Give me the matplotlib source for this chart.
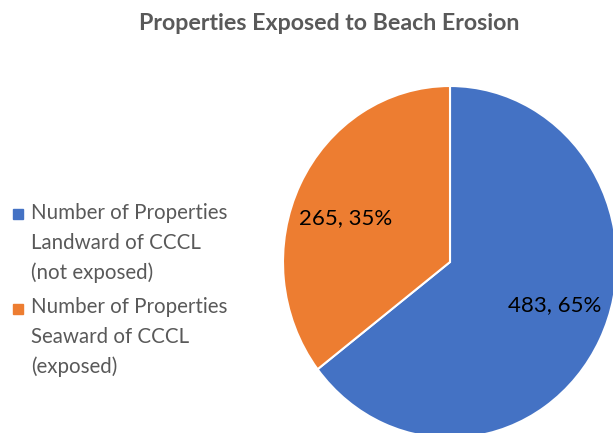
import numpy as np
import matplotlib.pyplot as plt
from matplotlib.patches import Rectangle

title = 'Properties Exposed to Beach Erosion'
labels = ['Number of Properties\nLandward of CCCL\n(not exposed)',
          'Number of Properties\nSeaward of CCCL\n(exposed)']
counts = [483, 265]
colors = ['#4472C4', '#ED7D31']

W, H = 613, 433
plt.rcParams['font.family'] = ['Lato', 'DejaVu Sans']

fig = plt.figure(figsize=(W / 100, H / 100), dpi=100)

# pie centre and radii in pixels (the pie runs off the right and bottom edges)
cx, cy, rx, ry = 450, 262, 167, 176
ax = fig.add_axes([(cx - rx) / W, (H - cy - ry) / H, 2 * rx / W, 2 * ry / H])

total = sum(counts)
def fmt(pct):
    n = int(round(pct * total / 100))
    return f'{n}, {pct:.0f}%'

wedges, _, autotexts = ax.pie(counts, colors=colors, startangle=90, counterclock=False,
                              autopct=fmt, pctdistance=0.7,
                              wedgeprops=dict(edgecolor='white', linewidth=1.5),
                              textprops=dict(fontsize=16, color='black'))
ax.set_aspect('auto')
ax.set_xlim(-1, 1)
ax.set_ylim(-1, 1)

# excel-ish label spots: a bit flatter than pctdistance gives
for w, t in zip(wedges, autotexts):
    mid = np.deg2rad((w.theta1 + w.theta2) / 2)
    t.set_position((0.7 * np.cos(mid), 0.56 * np.sin(mid)))

fig.text(329 / W, 1 - 30 / H, title, ha='center', va='baseline',
         fontsize=16.7, fontweight='bold', color='#595959')

# legend drawn by hand so the square sits on the first line
for i, (lab, col) in enumerate(zip(labels, colors)):
    y0 = 209 + i * 95
    fig.patches.append(Rectangle((13 / W, 1 - (y0 + 10) / H), 10 / W, 10 / H,
                                 transform=fig.transFigure, color=col))
    fig.text(31 / W, 1 - (203 + i * 94) / H, lab, ha='left', va='top',
             fontsize=14.8, color='#595959', linespacing=1.6)

fig.savefig('out.png', dpi=100)
